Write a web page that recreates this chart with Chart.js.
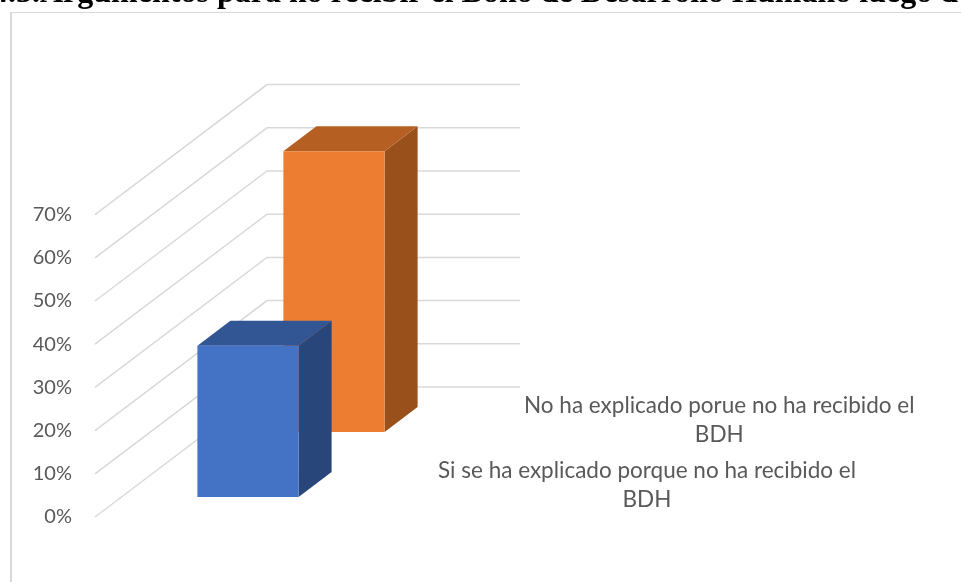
<!DOCTYPE html>
<html lang="es">
<head>
<meta charset="utf-8">
<title>Argumentos para no recibir el BDH</title>
<script src="https://cdn.jsdelivr.net/npm/chart.js@4/dist/chart.umd.min.js"></script>
<style>
    html, body { margin: 0; padding: 0; background: #fff; overflow: hidden; }
    #wrap { position: relative; width: 961px; height: 582px; overflow: hidden; }
    #frame { position: absolute; left: 10px; top: 12px; width: 1000px; height: 620px; border: 1px solid #d9d9d9; border-left-width: 2px; }
    #chart { position: absolute; left: 0; top: 0; }
</style>
</head>
<body>
<div id="wrap">
    <div id="frame"></div>
    <canvas id="chart" width="961" height="582"></canvas>
</div>
<script>
// Data
const categories = ['BDH'];
const seriesLabels = [
    ['Si se ha explicado porque no ha recibido el', 'BDH'],
    ['No ha explicado porue no ha recibido el', 'BDH']
];
const seriesValues = [35, 65];
const tickMax = 70;
const tickStep = 10;
const titleText = '4.3.Argumentos para no recibir el Bono de Desarrollo Humano luego d';

// Colours per series: front, top, side
const frontColors = ['#4472C4', '#ED7D31'];
const topColors = ['#325594', '#B65F22'];
const sideColors = ['#29467A', '#9A501B'];
const gridColor = '#D9D9D9';
const textColor = '#595959';

// 3D look: how far the floor runs back, and how deep each bar is within its slot
const DEPTH_X = 172;
const DEPTH_Y = 130;
const BACK_WALL_WIDTH = 253;
const BAR_DEPTH = 0.384;
const LABEL_FONT = '22.5px Lato';

// Front corner of a bar for series i (slot centre minus half the bar depth)
const slotShift = (i) => {
    const f = (i + 0.5) / seriesValues.length - (BAR_DEPTH / seriesValues.length) / 2;
    return { x: DEPTH_X * f, y: -DEPTH_Y * f };
};

const depthBars = {
    id: 'depthBars',
    beforeDatasetDraw(chart, args) {
        const { ctx } = chart;
        const i = args.index;
        const bar = args.meta.data[0];
        const shift = slotShift(i);
        const dx = DEPTH_X * BAR_DEPTH / seriesValues.length;
        const dy = -DEPTH_Y * BAR_DEPTH / seriesValues.length;
        const left = bar.x - bar.width / 2;
        const right = bar.x + bar.width / 2;

        ctx.save();
        ctx.translate(shift.x, shift.y);

        // side face
        ctx.fillStyle = sideColors[i];
        ctx.beginPath();
        ctx.moveTo(right, bar.y);
        ctx.lineTo(right + dx, bar.y + dy);
        ctx.lineTo(right + dx, bar.base + dy);
        ctx.lineTo(right, bar.base);
        ctx.closePath();
        ctx.fill();

        // top face
        ctx.fillStyle = topColors[i];
        ctx.beginPath();
        ctx.moveTo(left, bar.y);
        ctx.lineTo(left + dx, bar.y + dy);
        ctx.lineTo(right + dx, bar.y + dy);
        ctx.lineTo(right, bar.y);
        ctx.closePath();
        ctx.fill();
        // front face is the Chart.js bar itself, still translated
    },
    afterDatasetDraw(chart) {
        chart.ctx.restore();
    },
    beforeDatasetsDraw(chart) {
        const { ctx, scales } = chart;
        const x0 = chart.chartArea.left;
        ctx.save();
        ctx.strokeStyle = gridColor;
        ctx.lineWidth = 1.5;
        scales.y.ticks.forEach(t => {
            const y = scales.y.getPixelForValue(t.value);
            ctx.beginPath();
            ctx.moveTo(x0, y);
            ctx.lineTo(x0 + DEPTH_X, y - DEPTH_Y);
            ctx.lineTo(x0 + DEPTH_X + BACK_WALL_WIDTH, y - DEPTH_Y);
            ctx.stroke();
        });
        ctx.restore();
    },
    afterDatasetsDraw(chart) {
        const { ctx, scales } = chart;
        const floorRight = chart.chartArea.right;
        const floorY = scales.y.getPixelForValue(0);
        ctx.save();

        // series names along the depth axis, widest line starts just right of the floor edge
        ctx.font = LABEL_FONT;
        ctx.fillStyle = textColor;
        ctx.textAlign = 'center';
        ctx.textBaseline = 'middle';
        seriesLabels.forEach((lines, i) => {
            const f = (i + 0.5) / seriesLabels.length;
            const widest = Math.max(...lines.map(l => ctx.measureText(l).width));
            const cx = floorRight + DEPTH_X * f + 47 + widest / 2;
            const cy = floorY - DEPTH_Y * f + 1;
            lines.forEach((line, n) => {
                ctx.fillText(line, cx, cy + (n - (lines.length - 1) / 2) * 29);
            });
        });

        // title runs off the top of the picture
        ctx.font = 'bold 32px "Liberation Serif"';
        ctx.fillStyle = '#000';
        ctx.textAlign = 'left';
        ctx.textBaseline = 'alphabetic';
        ctx.fillText(titleText, -8, 2);
        ctx.restore();
    }
};

new Chart(document.getElementById('chart'), {
    type: 'bar',
    data: {
        labels: categories,
        datasets: seriesValues.map((v, i) => ({
            label: seriesLabels[i].join(' '),
            data: [v],
            backgroundColor: frontColors[i],
            grouped: false,
            barPercentage: 0.4,
            categoryPercentage: 1,
            clip: false
        }))
    },
    options: {
        responsive: false,
        animation: false,
        layout: { padding: { left: 0, top: 214.6, right: 613, bottom: 65 } },
        plugins: { legend: { display: false }, title: { display: false }, tooltip: { enabled: false } },
        scales: {
            x: { display: false },
            y: {
                min: 0,
                max: tickMax,
                afterFit: (scale) => { scale.width = 95; },
                ticks: {
                    stepSize: tickStep,
                    padding: 23,
                    color: textColor,
                    font: { family: 'Lato', size: 20 },
                    callback: (v) => v + '%'
                },
                grid: { display: false, drawTicks: false },
                border: { display: false }
            }
        }
    },
    plugins: [depthBars]
});
</script>
</body>
</html>
